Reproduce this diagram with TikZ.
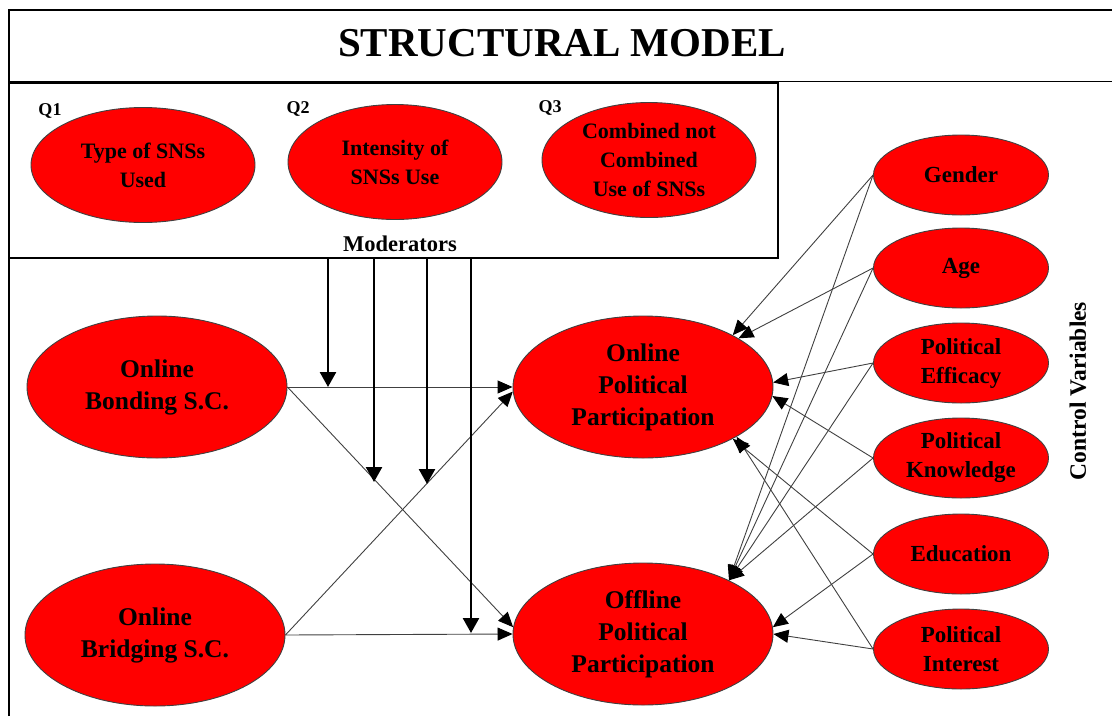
\documentclass[tikz,border=0pt]{standalone}
\usepackage{fontspec}
\setmainfont{Liberation Serif}
\usetikzlibrary{arrows.meta,shapes.geometric}

\begin{document}
\begin{tikzpicture}[x=1pt,y=-1pt,
  construct/.style={ellipse, draw=black!75, line width=0.9pt, fill=red,
    inner sep=0pt, align=center, font=\fontsize{25.5}{32}\selectfont\bfseries},
  mainvar/.style={construct, minimum width=260pt, minimum height=142pt},
  modvar/.style={construct, minimum height=115pt,
    font=\fontsize{22}{29}\selectfont\bfseries},
  ctrlvar/.style={construct, minimum width=175pt, minimum height=80pt,
    font=\fontsize{23}{29}\selectfont\bfseries},
  qlabel/.style={inner sep=0pt, font=\fontsize{18}{20}\selectfont\bfseries},
  link/.style={draw=black!75, line width=0.9pt,
    -{Triangle[length=15pt,width=13pt,color=black]}},
  modarrow/.style={draw=black, line width=2.5pt,
    -{Triangle[length=15pt,width=16pt]}},
  frame/.style={draw=black, line width=1.8pt}
]
\useasboundingbox (0,0) rectangle (1112,716);

% frame and title
\draw[frame] (9,716) -- (9,10) -- (1112,10);
\draw[frame] (9,81.5) -- (1112,81.5);
\node[inner sep=0pt, font=\fontsize{41}{44}\selectfont\bfseries] (title) at (562,43) {STRUCTURAL MODEL};

% moderator box
\draw[frame] (9,83) rectangle (778,258);
\node[qlabel] (q1) at (50,111) {Q1};
\node[qlabel] (q2) at (298,109) {Q2};
\node[qlabel] (q3) at (550,108) {Q3};
\node[modvar, minimum width=224pt] (type) at (143,165) {Type of SNSs\\Used};
\node[modvar, minimum width=214pt] (intens) at (395,162) {Intensity of\\SNSs Use};
\node[modvar, minimum width=214pt] (comb) at (649,160) {Combined not\\Combined\\Use of SNSs};
\node[inner sep=0pt, font=\fontsize{22.5}{25}\selectfont\bfseries] (modlabel) at (400,244) {Moderators};

% main constructs
\node[mainvar] (bond) at (157,387) {Online\\Bonding S.C.};
\node[mainvar] (bridge) at (155,635) {Online\\Bridging S.C.};
\node[mainvar] (onpp) at (643,387) {Online\\Political\\Participation};
\node[mainvar] (offpp) at (643,634) {Offline\\Political\\Participation};

% control variables
\node[ctrlvar] (gender) at (961,175) {Gender};
\node[ctrlvar] (age) at (961,268) {Age};
\node[ctrlvar] (eff) at (961,363) {Political\\Efficacy};
\node[ctrlvar] (know) at (961,458) {Political\\Knowledge};
\node[ctrlvar] (edu) at (961,554) {Education};
\node[ctrlvar] (inter) at (961,649) {Political\\Interest};
\node[rotate=90, inner sep=0pt, font=\fontsize{23.5}{25}\selectfont\bfseries] (ctrl) at (1078,391) {Control Variables};

% direct paths
\draw[link] (bond.east) -- (onpp.west);
\draw[link] (bond.east) -- (offpp.177);
\draw[link] (bridge.east) -- (onpp.182);
\draw[link] (bridge.east) -- (offpp.west);

% control paths
\draw[link] (gender.west) -- (onpp.30);
\draw[link] (gender.west) -- (offpp.32);
\draw[link] (age.west) -- (onpp.27);
\draw[link] (age.west) -- (offpp.32);
\draw[link] (eff.west) -- (onpp.2);
\draw[link] (eff.west) -- (offpp.32);
\draw[link] (know.west) -- (onpp.-4);
\draw[link] (know.west) -- (offpp.32);
\draw[link] (edu.west) -- (onpp.-30);
\draw[link] (edu.west) -- (offpp.3);
\draw[link] (inter.west) -- (onpp.-28);
\draw[link] (inter.west) -- (offpp.0);

% moderating effects
\coordinate (m1s) at (328,258); \coordinate (m1e) at (328,387);
\coordinate (m2s) at (374,258); \coordinate (m2e) at (374,482);
\coordinate (m3s) at (427,258); \coordinate (m3e) at (427,484);
\coordinate (m4s) at (471,258); \coordinate (m4e) at (471,633);
\draw[modarrow] (m1s) -- (m1e);
\draw[modarrow] (m2s) -- (m2e);
\draw[modarrow] (m3s) -- (m3e);
\draw[modarrow] (m4s) -- (m4e);
\end{tikzpicture}
\end{document}
